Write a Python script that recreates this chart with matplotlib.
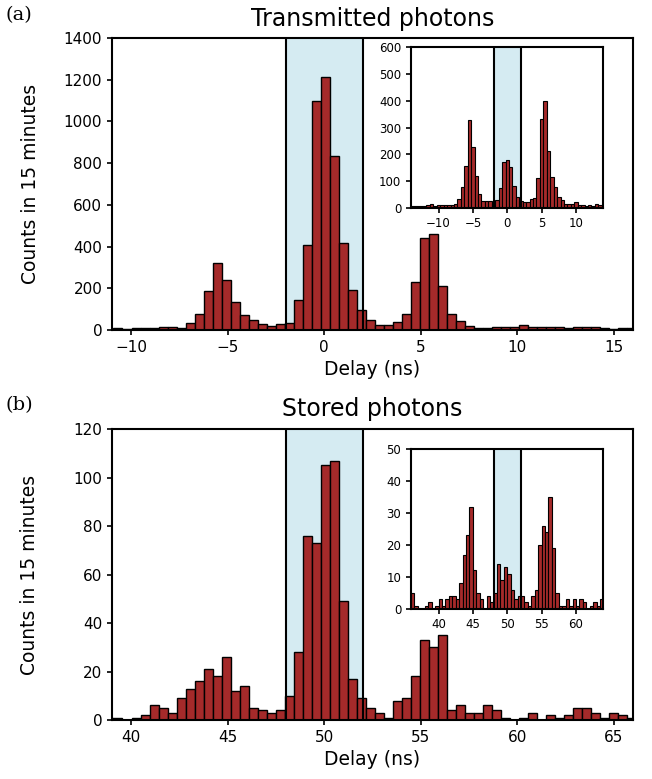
import numpy as np
import matplotlib
matplotlib.use("Agg")
import matplotlib.pyplot as plt

# main histograms: fixed-width bins, counts
main_bin_width = 0.4667
trans_bin_start = -11.39
trans_counts = [6, 8, 6, 10, 10, 11, 14, 14, 8, 35, 78, 187, 322, 242, 134, 70,
                48, 29, 19, 27, 32, 144, 407, 1097, 1215, 834, 415, 191, 96,
                48, 26, 26, 40, 77, 231, 439, 458, 212, 77, 43, 17, 10, 11, 14,
                14, 12, 24, 14, 12, 14, 14, 8, 12, 12, 16, 8, 5, 10, 10]

stored_bin_start = 38.61
stored_counts = [1, 1, 0, 1, 2, 6, 5, 3, 9, 13, 16, 21, 18, 26, 12, 14, 5, 4,
                 3, 4, 10, 28, 76, 73, 105, 107, 49, 17, 9, 5, 3, 1, 8, 9, 18,
                 33, 30, 35, 4, 6, 3, 3, 6, 4, 1, 0, 1, 3, 0, 2, 1, 2, 5, 5, 3,
                 1, 3, 2, 1]

# insets: 0.5 ns bins
inset_bin_width = 0.5
trans_inset_start = -14.25
trans_inset_counts = [7, 7, 7, 7, 6, 9, 12, 7, 10, 10, 9, 9, 10, 15, 32, 77, 156,
                      328, 228, 118, 50, 26, 25, 25, 12, 27, 72, 171, 180, 152,
                      82, 40, 25, 20, 20, 31, 36, 112, 333, 398, 212, 114, 76,
                      40, 27, 12, 14, 15, 21, 11, 10, 7, 9, 8, 12, 11, 10]

stored_inset_start = 36.0
stored_inset_counts = [5, 1, 0, 0, 1, 2, 0, 1, 3, 1, 3, 4, 4, 3, 8, 17, 23, 32,
                       12, 5, 3, 0, 4, 2, 5, 14, 9, 13, 11, 6, 3, 4, 4, 2, 1, 4,
                       6, 20, 26, 24, 35, 19, 5, 1, 1, 3, 1, 3, 1, 3, 2, 0, 1, 2,
                       1, 3]

BAR = "brown"
SPAN = "lightblue"


def hist_bars(ax, start, width, counts, lw=1.0):
    edges = start + width * np.arange(len(counts))
    ax.bar(edges, counts, width=width, align="edge", color=BAR,
           edgecolor="black", linewidth=lw, zorder=2)


def window(ax, lo, hi):
    ax.axvspan(lo, hi, color=SPAN, alpha=0.5, zorder=0, lw=0)
    ax.axvline(lo, color="black", lw=1.5, zorder=3)
    ax.axvline(hi, color="black", lw=1.5, zorder=3)


def style(ax, size):
    for s in ax.spines.values():
        s.set_linewidth(1.5)
    ax.tick_params(labelsize=size, width=1.2)


fig = plt.figure(figsize=(6.52, 7.79), dpi=100)

# (a) transmitted
ax1 = fig.add_axes([0.1718, 0.5764, 0.7991, 0.3748])
window(ax1, -2, 2)
hist_bars(ax1, trans_bin_start, main_bin_width, trans_counts)
ax1.set_xlim(-11, 16)
ax1.set_ylim(0, 1400)
ax1.set_yticks(range(0, 1401, 200))
ax1.set_xlabel("Delay (ns)", fontsize=13.5, labelpad=4)
ax1.set_ylabel("Counts in 15 minutes", fontsize=13.5, labelpad=17)
ax1.set_title("Transmitted photons", fontsize=17, pad=9)
style(ax1, 11)

in1 = fig.add_axes([0.6304, 0.7334, 0.2952, 0.2057])
window(in1, -2, 2)
hist_bars(in1, trans_inset_start, inset_bin_width, trans_inset_counts, lw=0.8)
in1.set_xlim(-14, 14)
in1.set_ylim(0, 600)
in1.set_xticks([-10, -5, 0, 5, 10])
in1.set_yticks(range(0, 601, 100))
style(in1, 8.5)

# (b) stored
ax2 = fig.add_axes([0.1718, 0.0757, 0.7991, 0.3736])
window(ax2, 48, 52)
hist_bars(ax2, stored_bin_start, main_bin_width, stored_counts)
ax2.set_xlim(39, 66)
ax2.set_ylim(0, 120)
ax2.set_yticks(range(0, 121, 20))
ax2.set_xlabel("Delay (ns)", fontsize=13.5, labelpad=4)
ax2.set_ylabel("Counts in 15 minutes", fontsize=13.5, labelpad=25)
ax2.set_title("Stored photons", fontsize=17, pad=9)
style(ax2, 11)

in2 = fig.add_axes([0.6304, 0.2186, 0.2952, 0.2046])
window(in2, 48, 52)
hist_bars(in2, stored_inset_start, inset_bin_width, stored_inset_counts, lw=0.8)
in2.set_xlim(36, 64)
in2.set_ylim(0, 50)
in2.set_xticks([40, 45, 50, 55, 60])
in2.set_yticks(range(0, 51, 10))
style(in2, 8.5)

fig.text(0.008, 0.992, "(a)", fontsize=14, family="DejaVu Serif", va="top")
fig.text(0.008, 0.491, "(b)", fontsize=14, family="DejaVu Serif", va="top")

fig.savefig("out.png", dpi=100)
plt.close(fig)
